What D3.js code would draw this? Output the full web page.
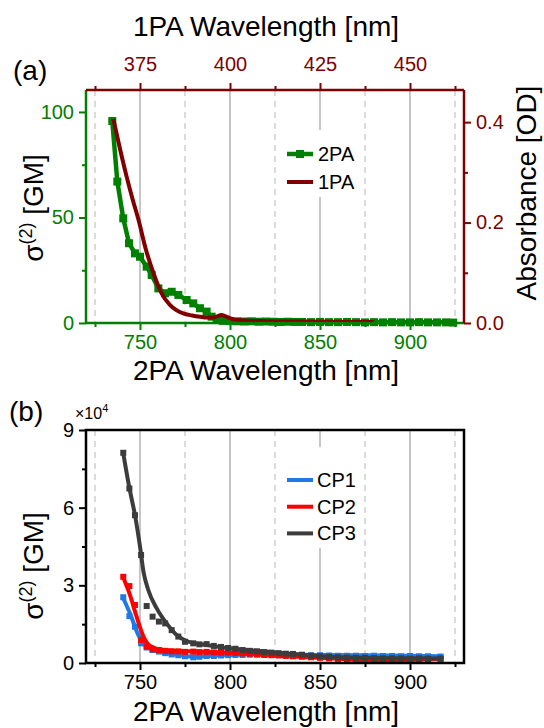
<!DOCTYPE html>
<html>
<head>
<meta charset="utf-8">
<script src="https://cdnjs.cloudflare.com/ajax/libs/d3/7.8.5/d3.min.js"></script>
<style>
  body { margin: 0; background: #fff; }
  svg { font-family: "Liberation Sans", Arial, sans-serif; }
</style>
</head>
<body>
<div id="chart"></div>
<script>
// ---- data ----
// panel (a): 2PA cross section [GM] vs 2PA wavelength [nm]
var twoPAWl = [734.6, 737.4, 740.7, 743.9, 747.2, 750.0, 753.7, 756.5, 760.2, 763.9, 767.6, 771.3, 775.9, 779.6, 783.3, 787.0, 789.8, 792.6,
  796, 800, 804, 808, 812, 816, 820, 824, 828, 832, 836, 840, 845, 850, 855, 860, 865, 870, 875, 880, 885, 890, 895, 900, 905, 910, 915, 920, 924];
var twoPAVal = [95.7, 67, 49.6, 37.8, 33, 31.4, 26.7, 22.7, 16.4, 14.1, 14.8, 13.3, 10.9, 9.3, 7.0, 5.4, 3.0, 1.4,
  1.0, 0.9, 0.8, 0.7, 0.8, 0.6, 0.7, 0.6, 0.5, 0.6, 0.5, 0.5, 0.4, 0.5, 0.4, 0.4, 0.5, 0.4, 0.3, 0.4, 0.3, 0.4, 0.3, 0.3, 0.4, 0.3, 0.3, 0.3, 0.2];

// panel (a): 1PA absorbance [OD] vs 1PA wavelength [nm]
var onePAWl = [367.6, 369.5, 371.3, 373, 374.6, 376.5, 378.7, 381, 383.3, 385, 387, 389.5, 391.7, 393.5, 395.3, 397.7, 399.5, 400.9,
  403, 405.5, 410, 415, 420, 425, 430, 435, 440];
var onePAVal = [0.406, 0.345, 0.291, 0.245, 0.205, 0.15, 0.10, 0.059, 0.036, 0.026, 0.019, 0.015, 0.0125, 0.011, 0.011, 0.016, 0.011, 0.0073,
  0.0055, 0.0046, 0.0035, 0.003, 0.0028, 0.0025, 0.0022, 0.002, 0.002];

// panel (b): measured 2PA cross section [x10^4 GM]
var cpWl = [740.7, 744.1, 747.2, 750.6, 753.7, 757, 760.5, 764, 767.6, 771.3, 775, 779.6, 783, 787, 791, 795, 799, 803, 807, 811,
  815, 819, 823, 827, 831, 835, 840, 845, 850, 855, 860, 865, 870, 875, 880, 885, 890, 895, 900, 905, 910, 917];
var cp1Val = [2.54, 1.81, 1.40, 0.76, 0.60, 0.50, 0.44, 0.38, 0.33, 0.30, 0.26, 0.22, 0.24, 0.27, 0.27, 0.29, 0.30, 0.31, 0.31, 0.32,
  0.33, 0.34, 0.33, 0.32, 0.32, 0.31, 0.31, 0.30, 0.30, 0.29, 0.28, 0.28, 0.28, 0.27, 0.28, 0.27, 0.27, 0.26, 0.27, 0.26, 0.26, 0.25];
var cp2Val = [3.33, 2.97, 2.24, 0.89, 0.63, 0.53, 0.50, 0.47, 0.45, 0.45, 0.43, 0.44, 0.42, 0.43, 0.41, 0.40, 0.40, 0.39, 0.37, 0.36,
  0.33, 0.31, 0.30, 0.29, 0.27, 0.26, 0.24, 0.22, 0.20, 0.18, 0.16, 0.15, 0.12, 0.11, 0.10, 0.08, 0.08, 0.10, 0.12, 0.14, 0.15, 0.16];
var cp3Val = [8.12, 6.74, 5.71, 4.17, 2.20, 1.79, 1.60, 1.53, 1.27, 1.02, 0.82, 0.76, 0.72, 0.73, 0.66, 0.62, 0.58, 0.55, 0.50, 0.47,
  0.45, 0.42, 0.40, 0.38, 0.36, 0.35, 0.32, 0.28, 0.26, 0.24, 0.22, 0.21, 0.20, 0.20, 0.19, 0.18, 0.18, 0.18, 0.17, 0.18, 0.17, 0.17];

// panel (b): smooth guide lines drawn through the points
var cp1FitWl = [740.7, 744.4, 749.1, 753.7, 763, 772, 780, 787, 800, 818, 850, 900, 917];
var cp1Fit = [2.50, 1.92, 1.08, 0.63, 0.40, 0.31, 0.24, 0.27, 0.31, 0.35, 0.31, 0.28, 0.26];
var cp2FitWl = [740.7, 744.4, 748.1, 751.9, 755.6, 763, 781.5, 800, 818.5, 850, 880, 900, 917];
var cp2Fit = [3.30, 2.63, 1.79, 1.02, 0.66, 0.50, 0.44, 0.40, 0.31, 0.20, 0.10, 0.12, 0.15];
var cp3FitWl = [740.7, 744, 747.5, 750, 752, 754.6, 759.3, 764.8, 770.4, 775.9, 787, 800, 818, 835, 850, 872, 900, 917];
var cp3Fit = [8.10, 6.80, 5.60, 4.50, 3.50, 2.82, 2.11, 1.53, 1.08, 0.85, 0.69, 0.57, 0.45, 0.35, 0.26, 0.20, 0.18, 0.17];

var cpNames = ["CP1", "CP2", "CP3"];
var cpColors = ["#1f78e6", "#ff0000", "#3c3c3c"];

// ticks
var xMajor = [750, 800, 850, 900];
var xMinor = [725, 775, 825, 875, 925];
var x1Major = [375, 400, 425, 450];
var x1Minor = [362.5, 387.5, 412.5, 437.5, 462.5];
var yAMajor = [0, 50, 100];
var yAMinor = [25, 75];
var yARMajor = [0, 0.2, 0.4];
var yARMinor = [0.1, 0.3];
var yBMajor = [0, 3, 6, 9];
var yBMinor = [1.5, 4.5, 7.5];

// ---- layout ----
var svgWidth = 544, svgHeight = 728;
var left = 86, plotW = 378, plotH = 233;
var topA = 90, topB = 430;
var tickFont = 20, titleFont = 28;

var green = "#008000", darkRed = "#800000";
var gridSolid = "#a8a8a8", gridDash = "#c8c8c8";

var svg = d3.select("#chart").append("svg")
  .attr("width", svgWidth)
  .attr("height", svgHeight);

var xScale = d3.scaleLinear().domain([720, 930]).range([0, plotW]);
var x1Scale = d3.scaleLinear().domain([360, 465]).range([0, plotW]);
var yA = d3.scaleLinear().domain([0, 110.4]).range([plotH, 0]);
var yAR = d3.scaleLinear().domain([0, 0.464]).range([plotH, 0]);
var yB = d3.scaleLinear().domain([0, 9]).range([plotH, 0]);

function grid(g) {
  g.selectAll(".gs").data(xMajor).enter().append("line")
    .attr("x1", d => xScale(d)).attr("x2", d => xScale(d))
    .attr("y1", 0).attr("y2", plotH)
    .attr("stroke", gridSolid).attr("stroke-width", 1.3);
  g.selectAll(".gd").data(xMinor).enter().append("line")
    .attr("x1", d => xScale(d)).attr("x2", d => xScale(d))
    .attr("y1", 0).attr("y2", plotH)
    .attr("stroke", gridDash).attr("stroke-width", 1.3)
    .attr("stroke-dasharray", "6,5");
}

function styleAxis(sel, color) {
  sel.select(".domain").remove();
  sel.selectAll("line").attr("stroke", color).attr("stroke-width", 2);
  sel.selectAll("text").attr("fill", color).style("font-size", tickFont + "px");
}

// draw an axis with major + minor ticks
function addAxis(g, axisFn, scale, major, minor, color, tf, transform, pad) {
  var maj = g.append("g").attr("transform", transform)
    .call(axisFn(scale).tickValues(major).tickSize(7).tickPadding(pad).tickFormat(tf));
  styleAxis(maj, color);
  var mn = g.append("g").attr("transform", transform)
    .call(axisFn(scale).tickValues(minor).tickSize(4).tickFormat(""));
  styleAxis(mn, color);
}

// ================= panel (a) =================
var gA = svg.append("g").attr("transform", `translate(${left}, ${topA})`);
grid(gA);

// legend background (covers grid)
gA.append("rect").attr("x", 196).attr("y", 40).attr("width", 76).attr("height", 67).attr("fill", "#fff");

// 2PA line + squares
var twoPA = twoPAWl.map((w, i) => ({ x: w, y: twoPAVal[i] }));
gA.append("path").datum(twoPA)
  .attr("fill", "none").attr("stroke", green).attr("stroke-width", 4.5)
  .attr("d", d3.line().x(d => xScale(d.x)).y(d => yA(d.y)));
gA.selectAll(".sq2").data(twoPA).enter().append("rect")
  .attr("x", d => xScale(d.x) - 4).attr("y", d => yA(d.y) - 4)
  .attr("width", 8).attr("height", 8).attr("fill", green);

// 1PA line
var onePA = onePAWl.map((w, i) => ({ x: w, y: onePAVal[i] }));
gA.append("path").datum(onePA)
  .attr("fill", "none").attr("stroke", darkRed).attr("stroke-width", 4)
  .attr("d", d3.line().curve(d3.curveMonotoneX).x(d => x1Scale(d.x)).y(d => yAR(d.y)));

// axes
addAxis(gA, d3.axisBottom, xScale, xMajor, xMinor, green, d3.format("d"), `translate(0, ${plotH})`, 5);
addAxis(gA, d3.axisLeft, yA, yAMajor, yAMinor, green, d3.format("d"), "translate(0,0)", 5);
addAxis(gA, d3.axisTop, x1Scale, x1Major, x1Minor, darkRed, d3.format("d"), "translate(0,0)", 12);
addAxis(gA, d3.axisRight, yAR, yARMajor, yARMinor, darkRed, d3.format(".1f"), `translate(${plotW},0)`, 5);

// frame lines
gA.append("line").attr("x1", 0).attr("x2", 0).attr("y1", 0).attr("y2", plotH).attr("stroke", green).attr("stroke-width", 2.5);
gA.append("line").attr("x1", 0).attr("x2", plotW).attr("y1", plotH).attr("y2", plotH).attr("stroke", green).attr("stroke-width", 2.5);
gA.append("line").attr("x1", 0).attr("x2", plotW).attr("y1", 0).attr("y2", 0).attr("stroke", darkRed).attr("stroke-width", 2.5);
gA.append("line").attr("x1", plotW).attr("x2", plotW).attr("y1", 0).attr("y2", plotH).attr("stroke", darkRed).attr("stroke-width", 2.5);

// legend (a)
var legA = gA.append("g").attr("transform", "translate(201, 64)");
legA.append("line").attr("x1", 0).attr("x2", 26).attr("y1", 0).attr("y2", 0).attr("stroke", green).attr("stroke-width", 4.5);
legA.append("rect").attr("x", 9).attr("y", -4).attr("width", 8).attr("height", 8).attr("fill", green);
legA.append("text").attr("x", 31).attr("y", 7).style("font-size", tickFont + "px").text("2PA");
legA.append("line").attr("x1", 0).attr("x2", 26).attr("y1", 28).attr("y2", 28).attr("stroke", darkRed).attr("stroke-width", 4);
legA.append("text").attr("x", 31).attr("y", 35).style("font-size", tickFont + "px").text("1PA");

// titles (a)
svg.append("text").attr("x", 266).attr("y", 36).attr("text-anchor", "middle").style("font-size", titleFont + "px").text("1PA Wavelength [nm]");
svg.append("text").attr("x", 13).attr("y", 80).style("font-size", titleFont + "px").text("(a)");
svg.append("text").attr("x", 266).attr("y", 380).attr("text-anchor", "middle").style("font-size", titleFont + "px").text("2PA Wavelength [nm]");

function sigmaTitle(cx, cy) {
  var t = svg.append("text")
    .attr("transform", `translate(${cx}, ${cy}) rotate(-90)`)
    .attr("text-anchor", "middle").style("font-size", titleFont + "px");
  t.append("tspan").text("σ");
  t.append("tspan").attr("dy", -11).style("font-size", "18px").text("(2)");
  t.append("tspan").attr("dy", 11).text(" [GM]");
}
sigmaTitle(43, 208);

svg.append("text")
  .attr("transform", "translate(536, 193) rotate(-90)")
  .attr("text-anchor", "middle").style("font-size", "28px").text("Absorbance [OD]");

// ================= panel (b) =================
var gB = svg.append("g").attr("transform", `translate(${left}, ${topB})`);
grid(gB);
gB.append("rect").attr("x", 196).attr("y", 17).attr("width", 80).attr("height", 101).attr("fill", "#fff");

var cpVals = [cp1Val, cp2Val, cp3Val];
var cpFits = [[cp1FitWl, cp1Fit], [cp2FitWl, cp2Fit], [cp3FitWl, cp3Fit]];
cpVals.forEach(function(vals, k) {
  var pts = cpWl.map((w, i) => ({ x: w, y: vals[i] }));
  var fit = cpFits[k][0].map((w, i) => ({ x: w, y: cpFits[k][1][i] }));
  gB.selectAll(".sq" + k).data(pts).enter().append("rect")
    .attr("x", d => xScale(d.x) - 3).attr("y", d => yB(d.y) - 3)
    .attr("width", 6).attr("height", 6).attr("fill", cpColors[k]);
  gB.append("path").datum(fit)
    .attr("fill", "none").attr("stroke", cpColors[k]).attr("stroke-width", 4)
    .attr("d", d3.line().curve(d3.curveMonotoneX).x(d => xScale(d.x)).y(d => yB(d.y)));
});

addAxis(gB, d3.axisBottom, xScale, xMajor, xMinor, "#000", d3.format("d"), `translate(0, ${plotH})`, 5);
addAxis(gB, d3.axisLeft, yB, yBMajor, yBMinor, "#000", d3.format("d"), "translate(0,0)", 5);

gB.append("rect").attr("x", 0).attr("y", 0).attr("width", plotW).attr("height", plotH)
  .attr("fill", "none").attr("stroke", "#000").attr("stroke-width", 2.5);

// legend (b)
var legB = gB.append("g").attr("transform", "translate(201, 50)");
cpNames.forEach(function(n, k) {
  legB.append("line").attr("x1", 0).attr("x2", 26).attr("y1", k * 26.7).attr("y2", k * 26.7)
    .attr("stroke", cpColors[k]).attr("stroke-width", 4);
  legB.append("text").attr("x", 30).attr("y", k * 26.7 + 7).style("font-size", tickFont + "px").text(n);
});

// titles (b)
svg.append("text").attr("x", 9).attr("y", 421).style("font-size", titleFont + "px").text("(b)");
var mult = svg.append("text").attr("x", 75).attr("y", 419).style("font-size", "16px");
mult.append("tspan").text("×10");
mult.append("tspan").attr("dy", -7).style("font-size", "11px").text("4");
svg.append("text").attr("x", 266).attr("y", 721).attr("text-anchor", "middle").style("font-size", titleFont + "px").text("2PA Wavelength [nm]");
sigmaTitle(43, 566);
</script>
</body>
</html>
